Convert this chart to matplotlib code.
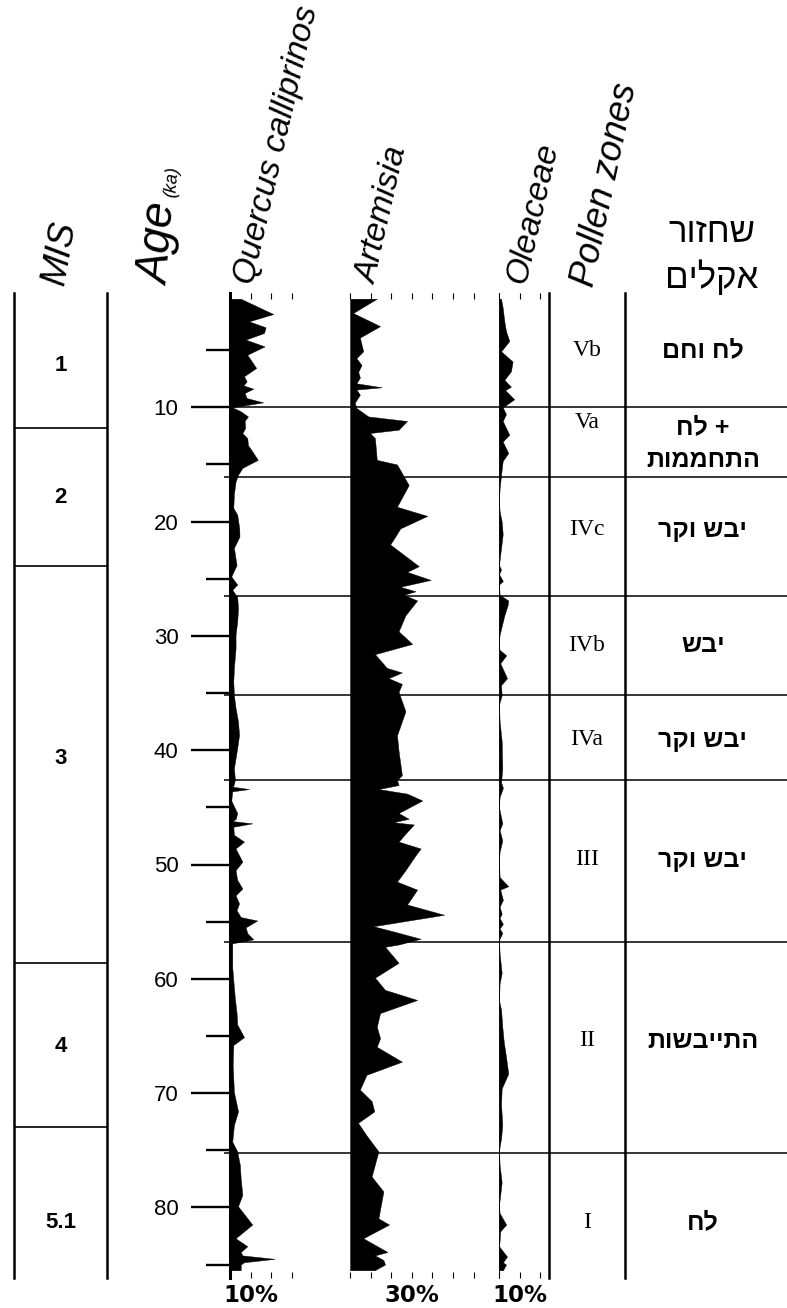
import matplotlib
matplotlib.use("Agg")
import matplotlib.pyplot as plt
from matplotlib.ticker import FixedLocator

# Pollen percentages (age in ka, value in %)
quercus_age = [0.5, 1.84, 2.48, 3.0, 3.5, 4.08, 4.67, 5.4, 6.56, 7.29, 7.73, 8.08, 8.37, 8.75, 9.19,
               9.57, 10.0, 10.35, 10.8, 11.2, 11.8, 12.25, 12.7, 13.3, 13.85, 14.6, 15.3, 15.9, 16.5,
               17.6, 18.8, 19.4, 20.6, 21.3, 22.3, 23.8, 24.8, 25.5, 25.97, 26.6, 27.6, 28.75, 29.9,
               31.1, 32.8, 34.0, 35.2, 36.3, 37.5, 38.67, 39.8, 41.6, 42.6, 43.2, 43.4, 43.6, 44.4,
               44.9, 45.5, 46.0, 46.2, 46.4, 46.7, 47.4, 48.0, 48.6, 49.75, 50.5, 51.35, 52.1, 52.7,
               53.4, 54.0, 54.6, 54.9, 55.5, 56.0, 56.55, 56.9, 57.8, 59.0, 60.1, 61.6, 63.0, 64.0,
               65.1, 65.8, 67.5, 69.9, 71.6, 72.8, 74.25, 75.1, 76.3, 77.5, 78.9, 79.9, 81.5, 82.7,
               83.4, 83.9, 84.2, 84.5, 84.8, 85.0, 85.5]
quercus_pct = [5.2, 21.0, 9.2, 17.3, 16.5, 7.6, 16.8, 8.4, 12.7, 6.8, 8.1, 6.5, 11.3, 7.1, 8.1,
               16.1, 1.1, 5.2, 8.7, 7.1, 7.4, 6.0, 8.4, 8.7, 10.8, 13.5, 6.0, 3.9, 2.7,
               1.9, 1.6, 3.5, 4.5, 4.6, 1.9, 3.2, 0.6, 3.5, 1.1, 3.5, 3.9, 3.5, 2.7,
               2.7, 1.9, 1.6, 1.9, 2.7, 3.9, 4.4, 3.5, 1.9, 2.4, 1.5, 9.2, 1.1, 0.6,
               1.9, 3.5, 2.8, 1.1, 10.8, 1.6, 1.9, 6.8, 2.7, 6.0, 2.7, 3.5, 6.0, 2.7,
               4.4, 3.2, 5.2, 13.2, 7.6, 8.4, 11.3, 1.1, 1.1, 1.1, 1.6, 2.3, 3.2, 3.5,
               6.8, 1.6, 1.3, 1.9, 3.9, 1.9, 1.1, 3.5, 4.8, 5.2, 6.0, 3.9, 10.8, 2.7,
               8.4, 5.2, 6.0, 21.6, 6.8, 5.2, 5.2]

artemisia_age = [0.5, 1.75, 2.9, 3.9, 4.5, 5.1, 5.7, 6.3, 6.9, 7.4, 7.9, 8.25, 8.45, 8.9, 9.6,
                 10.06, 10.8, 11.2, 11.96, 12.25, 12.7, 14.6, 15.0, 16.8, 18.7, 19.5, 20.6, 21.3,
                 22.0, 23.9, 24.4, 25.1, 25.7, 26.1, 26.4, 26.9, 28.2, 29.6, 30.7, 31.6, 32.8,
                 33.2, 33.7, 34.2, 34.9, 36.6, 38.7, 40.1, 42.2, 42.6, 43.05, 43.4, 43.8, 44.4,
                 45.5, 46.0, 46.3, 46.5, 47.3, 48.0, 48.6, 49.2, 50.5, 51.5, 52.2, 53.5, 54.4,
                 55.4, 55.9, 56.5, 57.0, 57.2, 58.6, 59.9, 60.97, 61.85, 63.0, 64.2, 65.2, 65.95,
                 67.25, 68.4, 69.7, 70.7, 71.6, 72.6, 73.7, 75.1, 77.3, 78.6, 80.96, 81.5, 82.7,
                 83.9, 84.2, 84.6, 85.0, 85.5]
artemisia_pct = [13.0, 1.5, 14.6, 4.8, 5.6, 6.4, 3.1, 5.6, 4.0, 4.8, 3.1, 15.4, 3.1, 4.8, 2.3,
                 3.1, 8.9, 27.7, 23.6, 9.7, 12.1, 13.0, 22.8, 28.5, 22.8, 37.5, 24.4, 22.0,
                 19.5, 33.4, 27.7, 39.2, 24.4, 31.8, 26.1, 32.6, 26.9, 23.6, 30.2, 12.1, 17.9,
                 25.2, 18.7, 25.2, 23.6, 26.9, 22.8, 23.6, 25.2, 22.8, 23.6, 13.8, 27.7, 35.1,
                 23.6, 28.5, 21.1, 31.0, 26.9, 23.6, 34.3, 31.8, 26.9, 22.8, 32.6, 27.7, 45.7,
                 11.3, 22.0, 34.3, 23.6, 17.0, 23.6, 12.1, 17.0, 32.6, 14.6, 13.0, 14.6, 13.0,
                 25.2, 8.0, 4.8, 10.5, 11.8, 3.9, 8.0, 13.8, 10.5, 16.2, 13.8, 19.0, 6.4,
                 18.2, 12.1, 16.2, 17.0, 12.0]

oleaceae_age = [0.5, 1.3, 2.5, 3.35, 4.2, 5.1, 6.0, 6.85, 7.6, 8.2, 8.5, 9.3, 10.0, 10.6, 11.2,
                12.4, 13.0, 14.0, 14.7, 15.9, 17.1, 18.2, 19.1, 20.0, 21.1, 22.9, 23.8, 24.2, 24.6,
                25.2, 25.5, 26.4, 26.9, 27.3, 28.2, 29.9, 30.5, 31.2, 31.7, 32.4, 33.7, 34.3, 35.2,
                36.0, 37.5, 39.2, 41.6, 42.8, 43.3, 44.1, 45.0, 46.4, 47.0, 47.9, 48.9, 49.6, 51.1,
                51.9, 52.2, 53.1, 53.7, 54.3, 54.7, 55.2, 55.6, 56.0, 56.6, 57.8, 59.5, 60.4, 61.9,
                62.7, 64.2, 65.5, 66.95, 68.3, 69.6, 71.0, 72.8, 73.96, 75.0, 76.3, 77.8, 78.9,
                79.8, 80.5, 81.5, 82.1, 82.9, 83.4, 84.3, 84.8, 85.0, 85.5]
oleaceae_pct = [1.0, 1.8, 2.6, 3.4, 5.0, 1.0, 6.6, 5.8, 2.6, 5.8, 3.0, 7.4, 1.8, 3.4, 1.8,
                5.0, 1.8, 4.5, 1.8, 1.0, 0.3, 0.0, 0.3, 1.3, 1.8, 0.6, 0.0, 1.0, 0.0,
                1.9, 0.0, 0.3, 4.5, 4.2, 2.6, 0.3, 0.0, 0.2, 3.5, 0.6, 3.9, 1.0, 1.3,
                0.0, 0.3, 1.3, 1.6, 1.0, 1.9, 0.3, 0.0, 1.6, 0.3, 1.6, 0.3, 0.0, 0.3,
                4.5, 0.6, 1.9, 0.3, 1.3, 0.3, 1.9, 0.3, 1.6, 0.0, 0.3, 1.3, 0.3, 0.0,
                1.0, 1.6, 2.3, 3.5, 4.5, 1.3, 1.0, 1.6, 1.0, 0.0, 0.3, 1.3, 0.6,
                0.0, 0.3, 3.5, 0.6, 0.3, 0.0, 3.9, 1.9, 3.4, 1.9]

# Zones and labels
zone_bounds = [10.0, 16.1, 26.5, 35.2, 42.6, 56.8, 75.2]
zone_label_age = [5.0, 11.3, 20.7, 30.8, 39.1, 49.6, 65.4, 81.3]
pollen_zones = ["Vb", "Va", "IVc", "IVb", "IVa", "III", "II", "I"]
climate_label_age = [5.0, 13.2, 20.7, 30.8, 39.1, 49.6, 65.4, 81.3]
climate = ["לח וחם", "+ לח\nהתחממות", "יבש וקר", "יבש", "יבש וקר", "יבש וקר", "התייבשות", "לח"]
climate_title = ["שחזור", "אקלים"]

mis_bounds = [11.8, 23.9, 58.6, 73.0]
mis_label_age = [6.3, 17.9, 40.7, 65.9, 81.3]
mis_labels = ["1", "2", "3", "4", "5.1"]

age_major = [10, 20, 30, 40, 50, 60, 70, 80]
age_minor = [5, 15, 25, 35, 45, 55, 65, 75, 85]

SANS = ["Liberation Sans", "DejaVu Sans"]
SERIF = ["Liberation Serif", "DejaVu Serif"]
plt.rcParams["font.family"] = SANS

W, H = 787, 1308
TOP, BOTTOM = 293, 1278
PX_PER_KA = 11.43
PX_PER_PCT = 2.06
AGE_MAX = (BOTTOM - TOP) / PX_PER_KA

fig = plt.figure(figsize=(W / 100, H / 100), dpi=100)


def rtl(s):
    """matplotlib lays glyphs out left to right, so flip each Hebrew line"""
    return "\n".join(line[::-1] for line in s.split("\n"))


def px_axes(x0, x1):
    """Axes spanning the common age range between two pixel columns"""
    ax = fig.add_axes([x0 / W, 1 - BOTTOM / H, (x1 - x0) / W, (BOTTOM - TOP) / H])
    ax.set_ylim(AGE_MAX, 0)
    ax.patch.set_visible(False)
    for side in ["left", "right", "top", "bottom"]:
        ax.spines[side].set_visible(False)
    ax.set_xticks([])
    ax.set_yticks([])
    return ax


def pollen_panel(x0, xmax, ages, values, label_at, label):
    """Filled silhouette curve with small percentage ticks"""
    ax = px_axes(x0, x0 + xmax * PX_PER_PCT)
    ax.set_xlim(0, xmax)
    ax.fill_betweenx(ages, 0, values, color="black", lw=0.3)
    ticks = list(range(0, xmax + 1, 10))
    ax.set_xticks(ticks)
    ax.set_xticklabels([label if t == label_at else "" for t in ticks])
    ax.tick_params(axis="x", direction="in", length=4, width=0.8, top=True, bottom=True,
                   pad=4, labelsize=16.5)
    for t in ax.get_xticklabels():
        t.set_family("DejaVu Sans")
        t.set_weight("bold")
    return ax


# Pollen curves
ax_q = pollen_panel(230, 30, quercus_age, quercus_pct, 10, "10%")
ax_q.spines["left"].set_visible(True)
ax_q.spines["left"].set_linewidth(2.2)
ax_q.yaxis.set_major_locator(FixedLocator(age_major))
ax_q.yaxis.set_minor_locator(FixedLocator(age_minor))
ax_q.tick_params(axis="y", which="major", direction="out", length=28, width=1.7, pad=9,
                 labelsize=16)
ax_q.tick_params(axis="y", which="minor", direction="out", length=17, width=1.7)

ax_a = pollen_panel(350, 60, artemisia_age, artemisia_pct, 30, "30%")

ax_o = pollen_panel(499, 20, oleaceae_age, oleaceae_pct, 10, "10%")
ax_o.spines["left"].set_visible(True)
ax_o.spines["left"].set_linewidth(0.6)

# Pollen zone column
ax_z = px_axes(549, 625)
for side in ["left", "right"]:
    ax_z.spines[side].set_visible(True)
    ax_z.spines[side].set_linewidth(1.8)
for age, lab in zip(zone_label_age, pollen_zones):
    ax_z.text(0.5, age, lab, transform=ax_z.get_yaxis_transform(), ha="center", va="center",
              fontsize=17, family=SERIF)

# Climate reconstruction column
ax_c = px_axes(625, W)
for age, lab in zip(climate_label_age, climate):
    ax_c.text(0.48, age, rtl(lab), transform=ax_c.get_yaxis_transform(), ha="center",
              va="center", fontsize=18, weight="bold", linespacing=1.45)

# Zone boundaries across the diagram
ax_f = px_axes(224, W)
ax_f.set_zorder(5)
for b in zone_bounds:
    ax_f.axhline(b, color="black", lw=1.1)

# MIS column
ax_m = px_axes(14, 107)
for side in ["left", "right"]:
    ax_m.spines[side].set_visible(True)
    ax_m.spines[side].set_linewidth(1.8)
for b in mis_bounds:
    ax_m.axhline(b, color="black", lw=1.2)
for age, lab in zip(mis_label_age, mis_labels):
    ax_m.text(0.5, age, lab, transform=ax_m.get_yaxis_transform(), ha="center", va="center",
              fontsize=16, weight="bold")


# Column headers
def header(x, y, s, size, rot):
    fig.text(x / W, 1 - y / H, s, rotation=rot, ha="center", va="bottom", fontsize=size,
             style="italic")


header(60, 287, "MIS", 26, 80)
header(160, 287, "Age", 33, 85)
header(172, 198, "(ka)", 13, 85)
header(277, 287, "Quercus calliprinos", 24, 77)
header(383, 287, "Artemisia", 24, 77)
header(533, 287, "Oleaceae", 24, 77)
header(605, 290, "Pollen zones", 26, 78)

fig.text(712 / W, 1 - 232 / H, rtl(climate_title[0]), ha="center", va="center", fontsize=25)
fig.text(712 / W, 1 - 277 / H, rtl(climate_title[1]), ha="center", va="center", fontsize=25)

fig.savefig("out.png", dpi=100)
